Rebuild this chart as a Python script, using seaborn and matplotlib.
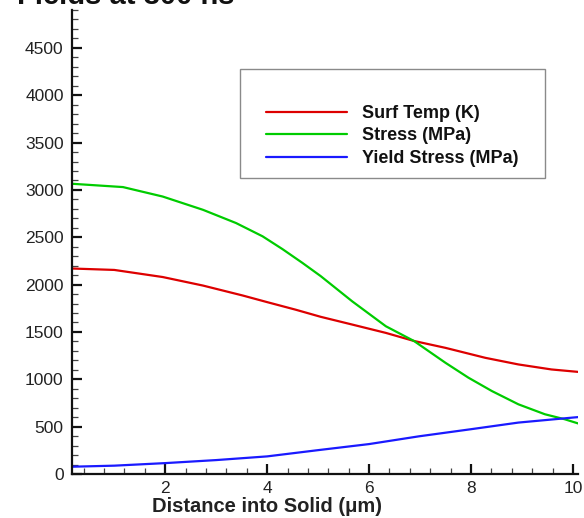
import matplotlib
matplotlib.use("Agg")
import matplotlib.pyplot as plt
from matplotlib.ticker import MultipleLocator
from matplotlib.patches import Rectangle
import seaborn as sns
import pandas as pd

# ---- data ----
x_temp = [0.17, 1.0, 1.95, 2.74, 3.52, 4.0, 4.56, 5.05, 5.67, 6.33, 6.88, 7.5, 8.28, 8.93, 9.58, 10.15]
surf_temp = [2170, 2155, 2080, 1990, 1885, 1815, 1735, 1660, 1578, 1490, 1405, 1332, 1227, 1157, 1104, 1076]

x_stress = [0.17, 1.17, 1.95, 2.74, 3.39, 3.91, 4.3, 4.69, 5.05, 5.67, 6.33, 6.88, 7.5, 7.95, 8.41, 8.93, 9.45, 9.84, 10.15]
stress = [3065, 3030, 2930, 2790, 2650, 2510, 2375, 2230, 2090, 1823, 1560, 1405, 1174, 1017, 876, 736, 631, 578, 526]

x_yield = [0.17, 1.0, 2.0, 3.0, 4.0, 5.0, 6.0, 6.98, 8.0, 8.93, 10.0, 10.15]
yield_stress = [77, 88, 115, 147, 186, 252, 316, 398, 473, 543, 596, 603]

labels = ["Surf Temp (K)", "Stress (MPa)", "Yield Stress (MPa)"]
colors = ["#dd0000", "#00cc00", "#1a1aff"]
y_ticks = [0, 500, 1000, 1500, 2000, 2500, 3000, 3500, 4000, 4500]
x_ticks = [2, 4, 6, 8, 10]
title_text = "Fields at 300 ns"
x_label = "Distance into Solid (\u03bcm)"

sns.set_style("ticks")
plt.rcParams["font.family"] = ["Liberation Sans", "DejaVu Sans"]

fig = plt.figure(figsize=(5.84, 5.18), dpi=100)
W, H = 584, 518
ax_l, ax_r, ax_b, ax_t = 72, 578, 474, 10
ax = fig.add_axes([ax_l / W, (H - ax_b) / H, (ax_r - ax_l) / W, (ax_b - ax_t) / H])

series = [(x_temp, surf_temp), (x_stress, stress), (x_yield, yield_stress)]
for (xs, ys), lab, col in zip(series, labels, colors):
    df = pd.DataFrame({"x": xs, "y": ys})
    sns.lineplot(data=df, x="x", y="y", ax=ax, color=col, lw=1.6, label=lab, sort=False)

ax.set_xlim(0.17, 10.1)
ax.set_ylim(0, 4900)
ax.set_xticks(x_ticks)
ax.set_yticks(y_ticks)
ax.xaxis.set_minor_locator(MultipleLocator(0.4))
ax.yaxis.set_minor_locator(MultipleLocator(100))
ax.tick_params(which="major", direction="in", length=7.5, width=1.6, color="#111111",
               labelsize=12.5, labelcolor="#222222", pad=6)
ax.tick_params(axis="x", which="major", pad=5)
ax.tick_params(which="minor", direction="in", length=4, width=0.9, color="#444444")
for s in ["top", "right"]:
    ax.spines[s].set_visible(False)
for s in ["left", "bottom"]:
    ax.spines[s].set_linewidth(1.6)
    ax.spines[s].set_color("#111111")

ax.set_ylabel("")
ax.set_xlabel(x_label, fontsize=14.5, fontweight="bold", color="#222222")
ax.xaxis.set_label_coords((267 - ax_l) / (ax_r - ax_l), -(497 - ax_b) / (ax_b - ax_t))

# legend box
bx0, bx1, by0, by1 = 240, 545, 69, 178
ax.add_patch(Rectangle(((bx0 - ax_l) / (ax_r - ax_l), (ax_b - by1) / (ax_b - ax_t)),
                       (bx1 - bx0) / (ax_r - ax_l), (by1 - by0) / (ax_b - ax_t),
                       transform=ax.transAxes, fill=True, facecolor="white",
                       edgecolor="#8a8a8a", lw=1.0, zorder=4))
leg = ax.legend(loc="upper left",
                bbox_to_anchor=((266 - ax_l) / (ax_r - ax_l), (ax_b - 105) / (ax_b - ax_t)),
                frameon=False, borderpad=0, borderaxespad=0, handlelength=4.5,
                handletextpad=0.8, labelspacing=0.3,
                prop={"weight": "bold", "size": 13})
leg.set_zorder(5)
for t in leg.get_texts():
    t.set_color("#111111")

fig.text(17 / W, (H - 4) / H, title_text, fontsize=21, fontweight="bold",
         color="#111111", ha="left", va="baseline")

fig.savefig("out.png", dpi=100, facecolor="white")
